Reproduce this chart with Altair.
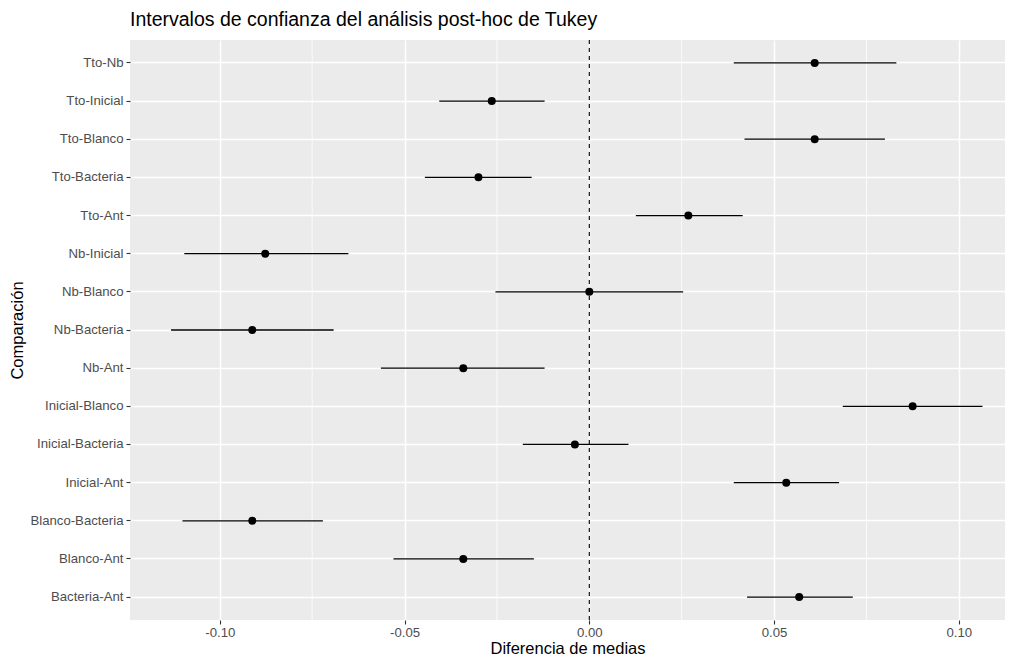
import altair as alt
import pandas as pd

comparaciones = [
    "Tto-Nb", "Tto-Inicial", "Tto-Blanco", "Tto-Bacteria", "Tto-Ant",
    "Nb-Inicial", "Nb-Blanco", "Nb-Bacteria", "Nb-Ant",
    "Inicial-Blanco", "Inicial-Bacteria", "Inicial-Ant",
    "Blanco-Bacteria", "Blanco-Ant", "Bacteria-Ant",
]
diferencia = [0.0610, -0.0264, 0.0610, -0.0300, 0.0268,
              -0.0877, 0.0000, -0.0912, -0.0341,
              0.0875, -0.0039, 0.0533,
              -0.0912, -0.0341, 0.0568]
inferior = [0.0391, -0.0406, 0.0420, -0.0445, 0.0126,
            -0.1096, -0.0254, -0.1132, -0.0564,
            0.0686, -0.0180, 0.0391,
            -0.1101, -0.0530, 0.0427]
superior = [0.0831, -0.0121, 0.0800, -0.0156, 0.0415,
            -0.0652, 0.0254, -0.0692, -0.0121,
            0.1064, 0.0106, 0.0676,
            -0.0721, -0.0150, 0.0713]

ticks_x = [-0.10, -0.05, 0.0, 0.05, 0.10]
minor_x = [-0.075, -0.025, 0.025, 0.075]
x_domain = [-0.1243, 0.1125]

df = pd.DataFrame({
    "comparacion": comparaciones,
    "diff": diferencia,
    "lwr": inferior,
    "upr": superior,
})
minor_df = pd.DataFrame({"x": minor_x})
zero_df = pd.DataFrame({"x": [0.0]})

xscale = alt.Scale(domain=x_domain, nice=False, zero=False)

xaxis = alt.Axis(
    values=ticks_x, format=".2f", title="Diferencia de medias",
    labelExpr="replace(datum.label, '\u2212', '-')",
    grid=True, gridColor="white", gridWidth=1.5,
    domain=False, tickColor="#333333", tickSize=4, tickWidth=1.1,
    labelColor="#4D4D4D", labelFont="Liberation Sans", labelFontSize=13.2,
    labelPadding=2, titleFont="Liberation Sans", titleFontSize=16.5,
    titleFontWeight="normal", titleColor="black", titlePadding=2,
)
yaxis = alt.Axis(
    title="Comparación", grid=True, gridColor="white", gridWidth=1.5,
    domain=False, tickColor="#333333", tickSize=4, tickWidth=1.1,
    labelColor="#4D4D4D", labelFont="Liberation Sans", labelFontSize=13.2,
    labelPadding=3, titleFont="Liberation Sans", titleFontSize=16.5,
    titleFontWeight="normal", titleColor="black", titlePadding=4,
)
yscale = alt.Scale(domain=comparaciones, paddingOuter=0.1, paddingInner=0)

minor = alt.Chart(minor_df).mark_rule(color="white", strokeWidth=0.8).encode(
    x=alt.X("x:Q", scale=xscale, axis=xaxis)
)
zero = alt.Chart(zero_df).mark_rule(color="black", strokeWidth=1.1, strokeDash=[4, 4]).encode(
    x=alt.X("x:Q", scale=xscale)
)
bars = alt.Chart(df).mark_rule(color="black", strokeWidth=1.3).encode(
    x=alt.X("lwr:Q", scale=xscale),
    x2="upr:Q",
    y=alt.Y("comparacion:N", sort=comparaciones, scale=yscale, axis=yaxis),
)
points = alt.Chart(df).mark_point(filled=True, color="black", size=64, opacity=1, shape="circle").encode(
    x=alt.X("diff:Q", scale=xscale),
    y=alt.Y("comparacion:N", sort=comparaciones, scale=yscale),
)

chart = alt.layer(minor, zero, bars, points).properties(
    width=875, height=580,
    background="white",
    title=alt.TitleParams(
        "Intervalos de confianza del análisis post-hoc de Tukey",
        anchor="start", frame="group", font="Liberation Sans", fontSize=19.5,
        fontWeight="normal", color="black", offset=9,
    ),
    autosize=alt.AutoSizeParams(type="none"),
    padding={"left": 122, "top": 32, "right": 0, "bottom": 37},
).configure_view(fill="#EBEBEB", stroke=None)

chart.save("out.html", embed_options={"renderer": "svg", "actions": False})
